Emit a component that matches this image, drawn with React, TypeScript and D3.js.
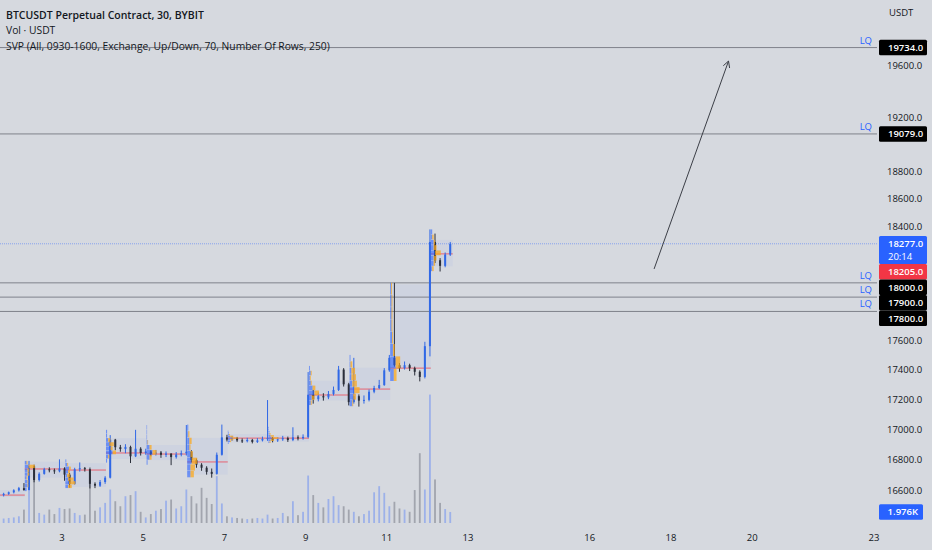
import React, { useEffect, useRef } from 'react';
import * as d3 from 'd3';

// 3h bars, first bar opens Jan 1 2023 12:00 UTC
const firstBar = Date.UTC(2023, 0, 1, 12);
const barMs = 3 * 3600 * 1000;
const firstOpen = 16567;

const highs = [
  16582, 16590, 16605, 16620, 16645, 16790, 16765, 16715, 16745, 16748,
  16740, 16800, 16748, 16710, 16745, 16780, 16750, 16740, 16650, 16665,
  16690, 16960, 16935, 16895, 16900, 16890, 16995, 16880, 16870, 16860,
  16862, 16855, 16852, 16840, 16848, 16858, 17027, 16860, 16805, 16775,
  16755, 16740, 16845, 17030, 16962, 16955, 16948, 16938, 16942, 16935,
  16940, 16950, 17194, 16948, 16945, 16955, 16950, 17012, 16958, 16965,
  17383, 17262, 17245, 17240, 17255, 17285, 17425, 17410, 17310, 17480,
  17232, 17225, 17265, 17290, 17330, 17410, 17500, 18000, 17445, 17455,
  17440, 17420, 17395, 17590, 18380, 18350, 18175, 18215, 18290
];
const lows = [
  16558, 16568, 16578, 16590, 16595, 16598, 16650, 16655, 16700, 16715,
  16705, 16715, 16660, 16615, 16635, 16720, 16720, 16610, 16612, 16620,
  16640, 16675, 16860, 16850, 16840, 16776, 16815, 16825, 16830, 16820,
  16825, 16810, 16815, 16762, 16805, 16820, 16825, 16780, 16745, 16725,
  16700, 16680, 16700, 16825, 16918, 16922, 16915, 16908, 16912, 16905,
  16908, 16918, 16922, 16912, 16915, 16922, 16915, 16920, 16925, 16930,
  16940, 17170, 17185, 17190, 17200, 17225, 17255, 17285, 17158, 17170,
  17150, 17170, 17185, 17240, 17268, 17290, 17385, 17420, 17385, 17400,
  17390, 17360, 17320, 17340, 17490, 18140, 18080, 18110, 18190
];
const closes = [
  16575, 16585, 16598, 16612, 16600, 16755, 16665, 16705, 16735, 16728,
  16722, 16740, 16700, 16640, 16735, 16742, 16735, 16640, 16628, 16652,
  16680, 16930, 16880, 16868, 16882, 16820, 16870, 16842, 16852, 16835,
  16845, 16830, 16838, 16815, 16832, 16840, 16850, 16795, 16765, 16745,
  16718, 16705, 16830, 16945, 16930, 16940, 16925, 16920, 16928, 16915,
  16925, 16935, 16940, 16925, 16932, 16940, 16928, 16945, 16940, 16948,
  17230, 17200, 17220, 17212, 17235, 17262, 17400, 17300, 17180, 17220,
  17190, 17195, 17250, 17275, 17295, 17395, 17480, 17430, 17410, 17430,
  17410, 17385, 17350, 17560, 18290, 18160, 18120, 18200, 18277
];
// volume in K USDT
const volumes = [
  0.8, 0.9, 1.0, 1.2, 2.4, 9.0, 8.5, 1.8, 1.5, 2.4,
  1.6, 2.7, 2.5, 2.6, 1.8, 1.4, 1.5, 10.0, 2.2, 2.8,
  3.6, 6.0, 3.9, 3.0, 4.8, 5.0, 5.7, 2.0, 1.0, 1.6,
  2.2, 2.5, 4.0, 4.2, 2.6, 3.0, 6.0, 4.8, 3.5, 6.3,
  4.5, 3.4, 8.4, 3.5, 1.2, 1.0, 0.9, 0.8, 0.7, 0.8,
  0.9, 0.8, 1.5, 0.8, 0.9, 1.8, 1.2, 3.9, 1.4, 2.0,
  8.5, 5.0, 3.6, 2.8, 4.3, 4.8, 3.2, 3.0, 2.4, 2.0,
  1.2, 1.6, 2.2, 5.5, 6.6, 5.4, 3.0, 3.8, 2.6, 2.4,
  2.0, 5.9, 12.5, 6.0, 23.0, 7.8, 3.6, 2.5, 1.976
];

const priceTicks = [16600, 16800, 17000, 17200, 17400, 17600, 18400, 18600, 18800, 19200, 19600];
const dayTicks = [3, 5, 7, 9, 11, 13, 16, 18, 20, 23];

const lqLevels = [19734, 19079, 18000, 17900, 17800];
const lastPrice = 18277;
const countdown = '20:14';
const currentPoc = 18205;

// session volume profile, one session per day (Jan), starting 02:00
const sessionDays = [1, 2, 3, 4, 5, 6, 7, 8, 9, 10, 11, 12];
const pocPrices = [16567, 16737, 16730, 16842, 16835, 16783, 16940, 16940, 17228, 17268, 17410, 18205];
const vaLows = [16555, 16680, 16620, 16803, 16795, 16700, 16912, 16918, 17191, 17194, 17405, 18117];
const vaHighs = [16600, 16785, 16775, 16940, 16894, 16942, 16967, 16960, 17325, 17413, 17990, 18305];
const profileLows = [16550, 16590, 16610, 16776, 16762, 16680, 16900, 16905, 17158, 17150, 17320, 18080];
const profileHighs = [16650, 16790, 16800, 16995, 17027, 17030, 16990, 17015, 17425, 17500, 18000, 18380];
const profileUp = [
  [2, 3, 2, 1, 1, 1, 0.5, 0.5],
  [2, 3, 3, 2, 3, 3, 4, 2],
  [3, 4, 3, 2, 3, 4, 2, 1],
  [1, 2, 6, 4, 3, 2, 1, 1],
  [1, 3, 6, 3, 1, 0.5, 0.5, 0.5],
  [3, 3, 4, 3, 2, 2, 1, 1],
  [1, 2, 2, 3, 2, 1, 1, 0.5],
  [1, 2, 3, 2, 1, 1, 0.5, 0.5],
  [2, 3, 6, 4, 2, 1, 2, 1],
  [3, 4, 5, 3, 2, 2, 1, 1],
  [4, 6, 3, 2, 1.5, 1.5, 1.5, 1],
  [1, 2, 2, 3, 2, 2, 1, 1]
];
const profileDown = [
  [1, 2, 1, 1, 0, 0, 0, 0],
  [0, 1, 1, 1, 2, 2, 7, 1],
  [4, 7, 6, 3, 2, 2, 1, 0],
  [0, 1, 3, 2, 4, 2, 0, 0],
  [0, 2, 4, 2, 0.5, 0, 0, 0],
  [3, 4, 5, 2, 1, 2, 1, 0],
  [0, 1, 3, 6, 3, 1, 0, 0],
  [1, 3, 6, 3, 1, 0, 0, 0],
  [1, 3, 5, 3, 1, 1, 1, 0],
  [1, 3, 6, 5, 5, 4, 2, 0],
  [3, 5, 2, 1, 1, 1, 1, 1],
  [1, 1, 2, 4, 2, 1, 1, 0]
];

// trend arrow drawn on the chart
const arrowFrom: [number, number] = [Date.UTC(2023, 0, 17, 14), 18098];
const arrowTo: [number, number] = [Date.UTC(2023, 0, 19, 10), 19630];

const FONT = '"Open Sans", "Noto Sans", sans-serif';

const App: React.FC = () => {
  const svgRef = useRef<SVGSVGElement>(null);

  useEffect(() => {
    if (!svgRef.current) return;
    d3.select(svgRef.current).selectAll('*').remove();

    const width = 932;
    const height = 550;
    const paneRight = 877;
    const paneBottom = 527;

    const svg = d3.select(svgRef.current)
      .attr('width', width)
      .attr('height', height)
      .style('font-family', FONT);

    svg.append('rect').attr('width', width).attr('height', height).attr('fill', '#d6d9df');

    const x = d3.scaleUtc()
      .domain([new Date(Date.UTC(2023, 0, 3)), new Date(Date.UTC(2023, 0, 13))])
      .range([62, 468]);
    const y = d3.scaleLog().domain([16600, 19600]).range([490, 65]);
    const yVol = d3.scaleLinear().domain([0, 24]).range([523, 389]);

    const bars = closes.map((c, i) => ({
      t: new Date(firstBar + (i + 0.5) * barMs),
      o: i === 0 ? firstOpen : closes[i - 1],
      h: highs[i],
      l: lows[i],
      c,
      v: volumes[i]
    }));
    const lastX = x(bars[bars.length - 1].t) + 2.5;

    svg.append('clipPath').attr('id', 'pane')
      .append('rect').attr('width', paneRight).attr('height', paneBottom);
    const pane = svg.append('g').attr('clip-path', 'url(#pane)');

    // Session value areas and POC lines
    const sessions = sessionDays.map((d, i) => {
      const x0 = x(new Date(Date.UTC(2023, 0, d, 2)));
      const x1 = i < sessionDays.length - 1
        ? x(new Date(Date.UTC(2023, 0, sessionDays[i + 1], 2)))
        : lastX;
      return { i, x0, x1 };
    });

    pane.selectAll('.va')
      .data(sessions)
      .enter()
      .append('rect')
      .attr('x', s => s.x0)
      .attr('width', s => s.x1 - s.x0)
      .attr('y', s => y(vaHighs[s.i]))
      .attr('height', s => y(vaLows[s.i]) - y(vaHighs[s.i]))
      .attr('fill', 'rgba(41,98,255,0.045)');

    pane.selectAll('.poc')
      .data(sessions)
      .enter()
      .append('line')
      .attr('x1', s => s.x0)
      .attr('x2', s => s.x1)
      .attr('y1', s => y(pocPrices[s.i]))
      .attr('y2', s => y(pocPrices[s.i]))
      .attr('stroke', '#f23645')
      .attr('stroke-width', 1)
      .attr('opacity', 0.7);

    // LQ levels
    pane.selectAll('.lq')
      .data(lqLevels)
      .enter()
      .append('line')
      .attr('x1', 0)
      .attr('x2', paneRight)
      .attr('y1', d => y(d))
      .attr('y2', d => y(d))
      .attr('stroke', '#7f828b')
      .attr('stroke-width', 1);

    pane.selectAll('.lq-text')
      .data(lqLevels)
      .enter()
      .append('text')
      .attr('x', 872)
      .attr('y', d => y(d) - 4)
      .attr('text-anchor', 'end')
      .style('font-size', '9.5px')
      .style('fill', '#2962ff')
      .text('LQ');

    // Last price line
    pane.append('line')
      .attr('x1', 0)
      .attr('x2', paneRight)
      .attr('y1', y(lastPrice))
      .attr('y2', y(lastPrice))
      .attr('stroke', 'rgba(41,98,255,0.45)')
      .attr('stroke-width', 1)
      .attr('stroke-dasharray', '1,1');

    // Volume
    pane.selectAll('.vol')
      .data(bars)
      .enter()
      .append('rect')
      .attr('x', d => x(d.t) - 0.9)
      .attr('width', 1.8)
      .attr('y', d => yVol(d.v))
      .attr('height', d => yVol(0) - yVol(d.v))
      .attr('fill', d => d.c >= d.o ? 'rgba(41,98,255,0.33)' : 'rgba(110,114,126,0.5)');

    // Candles
    const candle = pane.selectAll('.candle')
      .data(bars)
      .enter()
      .append('g');

    candle.append('line')
      .attr('x1', d => x(d.t))
      .attr('x2', d => x(d.t))
      .attr('y1', d => y(d.h))
      .attr('y2', d => y(d.l))
      .attr('stroke', d => d.c >= d.o ? '#3068e6' : '#2a2e39')
      .attr('stroke-width', 1);

    candle.append('rect')
      .attr('x', d => x(d.t) - 1)
      .attr('width', 2)
      .attr('y', d => y(Math.max(d.o, d.c)))
      .attr('height', d => Math.max(1, Math.abs(y(d.o) - y(d.c))))
      .attr('fill', d => d.c >= d.o ? '#3068e6' : '#2a2e39');

    // Session volume profiles (up blue, down orange)
    sessions.forEach(s => {
      const up = profileUp[s.i];
      const down = profileDown[s.i];
      const rows = up.length;
      const step = (profileHighs[s.i] - profileLows[s.i]) / rows;
      const maxRow = d3.max(up.map((u, k) => u + down[k])) || 1;
      const w = d3.scaleLinear().domain([0, maxRow]).range([0, 10]);
      const g = pane.append('g');
      up.forEach((u, k) => {
        const lo = profileLows[s.i] + k * step;
        const hi = lo + step;
        const yt = y(hi);
        const hgt = Math.max(0.8, y(lo) - yt - 0.4);
        g.append('rect')
          .attr('x', s.x0)
          .attr('y', yt)
          .attr('width', w(u))
          .attr('height', hgt)
          .attr('fill', 'rgba(41,98,255,0.6)');
        g.append('rect')
          .attr('x', s.x0 + w(u))
          .attr('y', yt)
          .attr('width', w(down[k]))
          .attr('height', hgt)
          .attr('fill', 'rgba(251,168,30,0.75)');
      });
    });

    // Arrow
    const ax1 = x(new Date(arrowFrom[0]));
    const ay1 = y(arrowFrom[1]);
    const ax2 = x(new Date(arrowTo[0]));
    const ay2 = y(arrowTo[1]);
    const ang = Math.atan2(ay2 - ay1, ax2 - ax1);
    pane.append('line')
      .attr('x1', ax1).attr('y1', ay1).attr('x2', ax2).attr('y2', ay2)
      .attr('stroke', '#3c3f47').attr('stroke-width', 1);
    pane.append('path')
      .attr('d', d3.line()([
        [ax2 - 7 * Math.cos(ang - 0.5), ay2 - 7 * Math.sin(ang - 0.5)],
        [ax2, ay2],
        [ax2 - 7 * Math.cos(ang + 0.5), ay2 - 7 * Math.sin(ang + 0.5)]
      ]))
      .attr('fill', 'none')
      .attr('stroke', '#3c3f47')
      .attr('stroke-width', 1);

    // Legend
    const legend = svg.append('g').style('fill', '#131722');
    legend.append('text').attr('x', 6).attr('y', 19)
      .style('font-size', '10.5px').style('font-weight', 600)
      .text('BTCUSDT Perpetual Contract, 30, BYBIT');
    legend.append('text').attr('x', 6).attr('y', 34)
      .style('font-size', '10.3px')
      .text('Vol · USDT');
    legend.append('text').attr('x', 6).attr('y', 50)
      .style('font-size', '10.3px')
      .text('SVP (All, 0930-1600, Exchange, Up/Down, 70, Number Of Rows, 250)');

    // Price axis
    svg.append('text').attr('x', 889).attr('y', 16)
      .style('font-size', '9.5px').style('fill', '#131722').text('USDT');

    svg.selectAll('.ptick')
      .data(priceTicks)
      .enter()
      .append('text')
      .attr('x', 887)
      .attr('y', d => y(d))
      .attr('dominant-baseline', 'central')
      .style('font-size', '9.5px')
      .style('fill', '#131722')
      .text(d => d.toFixed(1));

    // Price labels, stacked so they do not overlap
    const boxH = 15.5;
    const labels = [
      ...lqLevels.map(p => ({ p, lines: [p.toFixed(1)], fill: '#000000' })),
      { p: lastPrice, lines: [lastPrice.toFixed(1), countdown], fill: '#2962ff' },
      { p: currentPoc, lines: [currentPoc.toFixed(1)], fill: '#f23645' }
    ].sort((a, b) => y(a.p) - y(b.p));
    let prevBottom = -Infinity;
    labels.forEach(lb => {
      const top = Math.max(y(lb.p) - boxH / 2, prevBottom);
      const h = boxH + (lb.lines.length - 1) * 12.5;
      prevBottom = top + h;
      svg.append('rect')
        .attr('x', 879).attr('y', top).attr('width', 48).attr('height', h)
        .attr('rx', 1.5).attr('fill', lb.fill);
      lb.lines.forEach((t, k) => {
        svg.append('text')
          .attr('x', 888)
          .attr('y', top + boxH / 2 + k * 13)
          .attr('dominant-baseline', 'central')
          .style('font-size', '9.5px')
          .style('font-weight', k === 0 ? 600 : 400)
          .style('fill', '#ffffff')
          .text(t);
      });
    });

    // Volume label
    const lastVol = volumes[volumes.length - 1];
    svg.append('rect')
      .attr('x', 879).attr('y', yVol(lastVol) - boxH / 2).attr('width', 44).attr('height', boxH)
      .attr('rx', 1.5).attr('fill', '#2962ff');
    svg.append('text')
      .attr('x', 918).attr('y', yVol(lastVol))
      .attr('text-anchor', 'end')
      .attr('dominant-baseline', 'central')
      .style('font-size', '9.5px').style('font-weight', 600).style('fill', '#ffffff')
      .text(`${lastVol.toFixed(3)}K`);

    // Time axis
    svg.selectAll('.ttick')
      .data(dayTicks)
      .enter()
      .append('text')
      .attr('x', d => x(new Date(Date.UTC(2023, 0, d))))
      .attr('y', 541)
      .attr('text-anchor', 'middle')
      .style('font-size', '9.5px')
      .style('fill', '#131722')
      .text(d => String(d));
  }, []);

  return (
    <div style={{ position: 'absolute', left: 0, top: 0 }}>
      <svg ref={svgRef} style={{ display: 'block' }}></svg>
    </div>
  );
};

export default App;
